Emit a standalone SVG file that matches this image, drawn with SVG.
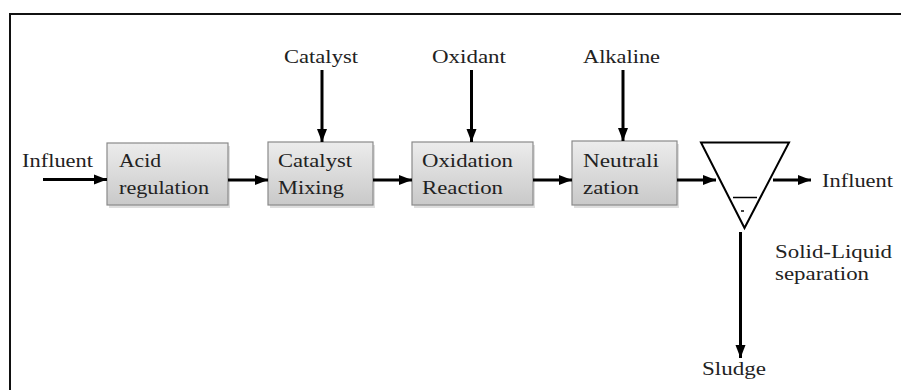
<svg xmlns="http://www.w3.org/2000/svg" width="901" height="390" viewBox="0 0 901 390">
<defs>
<style>
.t{font-family:"Liberation Serif","Times New Roman",serif;font-size:18px;fill:#222}
.box{fill:url(#g);stroke:#8a8a8a;stroke-width:1.2}
.sh{fill:#c8c8c8;opacity:.6}
.c{stroke:#000;stroke-width:3;fill:none}
</style>
<linearGradient id="g" x1="0" y1="0" x2="0" y2="1">
<stop offset="0" stop-color="#ececec"/>
<stop offset="1" stop-color="#c9c9c9"/>
</linearGradient>
<marker id="a" markerUnits="userSpaceOnUse" markerWidth="14" markerHeight="12" viewBox="0 0 14 12" refX="13" refY="6" orient="auto">
<path d="M0,1 L13,6 L0,11 Z" fill="#000"/>
</marker>
</defs>
<rect x="0" y="0" width="901" height="390" fill="#fff"/>
<path d="M10,390 V14 H901" fill="none" stroke="#111" stroke-width="2"/>
<g id="acid">
<rect class="sh" x="109" y="146" width="121" height="62"/>
<rect class="box" x="107" y="143" width="121" height="62"/>
<text class="t" x="119" y="167" textLength="42" lengthAdjust="spacingAndGlyphs">Acid</text>
<text class="t" x="119" y="194" textLength="90" lengthAdjust="spacingAndGlyphs">regulation</text>
</g>
<g id="mixing">
<rect class="sh" x="270" y="145" width="105" height="63"/>
<rect class="box" x="268" y="142" width="105" height="63"/>
<text class="t" x="278" y="167" textLength="74" lengthAdjust="spacingAndGlyphs">Catalyst</text>
<text class="t" x="278" y="194" textLength="66" lengthAdjust="spacingAndGlyphs">Mixing</text>
</g>
<g id="oxidation">
<rect class="sh" x="414" y="145" width="121" height="63"/>
<rect class="box" x="412" y="142" width="121" height="63"/>
<text class="t" x="422" y="167" textLength="91" lengthAdjust="spacingAndGlyphs">Oxidation</text>
<text class="t" x="422" y="194" textLength="81" lengthAdjust="spacingAndGlyphs">Reaction</text>
</g>
<g id="neutralization">
<rect class="sh" x="574" y="144" width="105" height="64"/>
<rect class="box" x="572" y="141" width="105" height="64"/>
<text class="t" x="583" y="167" textLength="76" lengthAdjust="spacingAndGlyphs">Neutrali</text>
<text class="t" x="583" y="194" textLength="56" lengthAdjust="spacingAndGlyphs">zation</text>
</g>
<g id="separator">
<path d="M701,142.5 H789 L744.5,228 Z" fill="#fff" stroke="#000" stroke-width="2"/>
<line x1="733" y1="197.5" x2="757" y2="197.5" stroke="#000" stroke-width="1.5"/>
<line x1="741" y1="211" x2="744" y2="211" stroke="#000" stroke-width="1.5"/>
</g>
<g id="labels">
<text class="t" x="22" y="167" textLength="71" lengthAdjust="spacingAndGlyphs">Influent</text>
<text class="t" x="284" y="63" textLength="74" lengthAdjust="spacingAndGlyphs">Catalyst</text>
<text class="t" x="432" y="63" textLength="74" lengthAdjust="spacingAndGlyphs">Oxidant</text>
<text class="t" x="583" y="63" textLength="77" lengthAdjust="spacingAndGlyphs">Alkaline</text>
<text class="t" x="822" y="187" textLength="71" lengthAdjust="spacingAndGlyphs">Influent</text>
<text class="t" x="775" y="258" textLength="117" lengthAdjust="spacingAndGlyphs">Solid-Liquid</text>
<text class="t" x="775" y="280" textLength="94" lengthAdjust="spacingAndGlyphs">separation</text>
<text class="t" x="702" y="375" textLength="64" lengthAdjust="spacingAndGlyphs">Sludge</text>
</g>
<g id="connectors">
<line class="c" x1="43" y1="179.5" x2="107" y2="179.5" marker-end="url(#a)"/>
<line class="c" x1="228" y1="180" x2="268" y2="180" marker-end="url(#a)"/>
<line class="c" x1="373" y1="180" x2="412" y2="180" marker-end="url(#a)"/>
<line class="c" x1="533" y1="180" x2="572" y2="180" marker-end="url(#a)"/>
<line class="c" x1="677" y1="180" x2="716" y2="180" marker-end="url(#a)"/>
<line class="c" x1="773" y1="180" x2="811" y2="180" marker-end="url(#a)"/>
<line class="c" x1="322" y1="70" x2="322" y2="142" marker-end="url(#a)"/>
<line class="c" x1="471.5" y1="70" x2="471.5" y2="142" marker-end="url(#a)"/>
<line class="c" x1="623" y1="70" x2="623" y2="141" marker-end="url(#a)"/>
<line class="c" x1="740.5" y1="232" x2="740.5" y2="358" marker-end="url(#a)"/>
</g>
</svg>
